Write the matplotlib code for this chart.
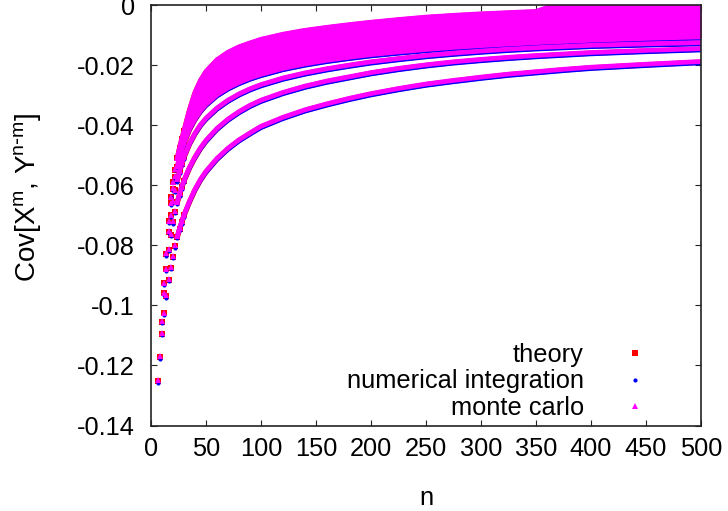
import numpy as np
import matplotlib
matplotlib.use("Agg")
import matplotlib.pyplot as plt
from matplotlib import rcParams
from matplotlib.ticker import MultipleLocator, FuncFormatter
from matplotlib.transforms import offset_copy

rcParams['font.family'] = ['Liberation Sans', 'DejaVu Sans']
rcParams['font.size'] = 18.3
rcParams['mathtext.default'] = 'regular'
rcParams['axes.unicode_minus'] = False

# n values at which the covariance curves are read
n = [6, 8, 10, 12, 14, 16, 18, 20, 22, 24, 26, 28, 30, 35, 40, 45, 50, 60, 70, 80, 90,
     100, 120, 140, 160, 180, 200, 225, 250, 275, 300, 325, 350, 375, 400, 450, 500]

# lowest branch
cov_1 = [-0.1252, -0.1172, -0.1095, -0.1026, -0.0969, -0.0915, -0.0874, -0.0838, -0.0802,
         -0.0771, -0.0745, -0.0722, -0.0700, -0.0655, -0.0615, -0.0582, -0.0555, -0.0512,
         -0.0478, -0.0450, -0.0427, -0.0405, -0.0375, -0.0350, -0.0330, -0.0312, -0.0296,
         -0.0279, -0.0264, -0.0252, -0.0241, -0.0231, -0.0223, -0.0215, -0.0208, -0.0198, -0.0189]
# second branch
cov_2 = [None, None, -0.1054, -0.0960, -0.0880, -0.0815, -0.0765, -0.0722, -0.0687,
         -0.0656, -0.0629, -0.0606, -0.0585, -0.0542, -0.0507, -0.0477, -0.0452, -0.0412,
         -0.0381, -0.0356, -0.0335, -0.0318, -0.0292, -0.0271, -0.0254, -0.0240, -0.0226,
         -0.0212, -0.0200, -0.0190, -0.0182, -0.0175, -0.0169, -0.0164, -0.0159, -0.0152, -0.0146]
# third branch
cov_3 = [None, None, None, -0.0926, -0.0829, -0.0754, -0.0700, -0.0655, -0.0616,
         -0.0582, -0.0553, -0.0528, -0.0506, -0.0462, -0.0428, -0.0400, -0.0378, -0.0344,
         -0.0318, -0.0297, -0.0280, -0.0266, -0.0244, -0.0227, -0.0213, -0.0201, -0.0190,
         -0.0179, -0.0169, -0.0161, -0.0154, -0.0148, -0.0143, -0.0139, -0.0135, -0.0130, -0.0126]
# lower and upper edge of the packed branches
cov_lo = [None, None, None, None, None, -0.0720, -0.0660, -0.0612, -0.0572,
          -0.0538, -0.0508, -0.0483, -0.0460, -0.0414, -0.0380, -0.0353, -0.0332, -0.0300,
          -0.0277, -0.0259, -0.0244, -0.0232, -0.0212, -0.0197, -0.0185, -0.0175, -0.0166,
          -0.0157, -0.0149, -0.0142, -0.0136, -0.0131, -0.0126, -0.0122, -0.0118, -0.0112, -0.0107]
cov_hi = [None, None, None, None, None, None, -0.0640, -0.0590, -0.0548,
          -0.0510, -0.0476, -0.0446, -0.0420, -0.0350, -0.0292, -0.0252, -0.0222, -0.0183,
          -0.0158, -0.0140, -0.0127, -0.0115, -0.0098, -0.0085, -0.0075, -0.0066, -0.0058,
          -0.0049, -0.0041, -0.0035, -0.0030, -0.0026, -0.0022, -0.0019, -0.0017, -0.0014, -0.0012]
# monte carlo upper edge (noise pushes it past zero for large n)
mc_hi = [None, None, None, None, None, None, -0.0640, -0.0590, -0.0548,
         -0.0510, -0.0476, -0.0446, -0.0420, -0.0350, -0.0292, -0.0252, -0.0222, -0.0183,
         -0.0158, -0.0140, -0.0127, -0.0115, -0.0098, -0.0085, -0.0075, -0.0066, -0.0058,
         -0.0049, -0.0041, -0.0035, -0.0030, -0.0026, -0.0022, 0.0010, 0.0010, 0.0010, 0.0010]

labels = ["theory", "numerical integration", "monte carlo"]

n = np.array(n, dtype=float)
curves = [np.array(c, dtype=float) for c in (cov_1, cov_2, cov_3, cov_lo, cov_hi)]
lo = curves[3]
hi = curves[4]
mc = np.array(mc_hi, dtype=float)

fig = plt.figure(figsize=(7.28, 5.11), dpi=100)
ax = fig.add_axes([151 / 728, 1 - 425.5 / 511, 550 / 728, 420 / 511])

early = n <= 30
late = n >= 24
down = offset_copy(ax.transData, fig=fig, x=0, y=-1.5, units='dots')
up = offset_copy(ax.transData, fig=fig, x=0, y=0.7, units='dots')

# theory
ax.fill_between(n[late], lo[late], hi[late], color='red', lw=0, zorder=1)
for i, c in enumerate(curves):
    ax.plot(n[early], c[early], 's', color='red', ms=4.3, mew=0, zorder=2,
            label=labels[0] if i == 0 else None)
    ax.plot(n[late], c[late], '-', color='red', lw=3.8, zorder=2)

# numerical integration
for i, c in enumerate(curves):
    tr = ax.transData if i == 4 else down
    ax.plot(n[early], c[early], 'o', color='blue', ms=3.0, mew=0, transform=tr, zorder=2.2,
            label=labels[1] if i == 0 else None)
    ax.plot(n[late], c[late], '-', color='blue', lw=2.2, transform=tr, zorder=2.2)

# monte carlo
ax.fill_between(n[late], lo[late], mc[late], color='magenta', lw=0, zorder=2.5)
for i, c in enumerate(curves[:4] + [mc]):
    ax.plot(n[early], c[early], '^', color='magenta', ms=4.6, mew=0, transform=up, zorder=2.6,
            label=labels[2] if i == 0 else None)
    ax.plot(n[late], c[late], '-', color='magenta', lw=3.4, transform=up, zorder=2.6)

ax.set_xlim(0, 500)
ax.set_ylim(-0.14, 0)
ax.xaxis.set_major_locator(MultipleLocator(50))
ax.yaxis.set_major_locator(MultipleLocator(0.02))
ax.yaxis.set_major_formatter(FuncFormatter(lambda v, p: "%g" % round(v, 4)))
ax.tick_params(direction='in', length=4.5, width=0.8, top=True, right=True, color='#222222')
ax.tick_params(axis='x', pad=8.5)
ax.tick_params(axis='y', pad=11.5)
for s in ax.spines.values():
    s.set_linewidth(1.2)
    s.set_color('#222222')
    s.set_zorder(3)

ax.set_xlabel("n")
ax.xaxis.set_label_coords(0.5, -0.145)
ax.set_ylabel(r"Cov[X$^{m}$, Y$^{n\text{-}m}$]", fontsize=20)
ax.yaxis.set_label_coords(-0.197, 0.544)

ax.legend(loc='lower right', bbox_to_anchor=(0.9255, 0.013), markerfirst=False, frameon=False,
          handlelength=2, handletextpad=1.0, labelspacing=0.1, borderpad=0, borderaxespad=0,
          numpoints=1)

fig.savefig("out.png", dpi=100)
